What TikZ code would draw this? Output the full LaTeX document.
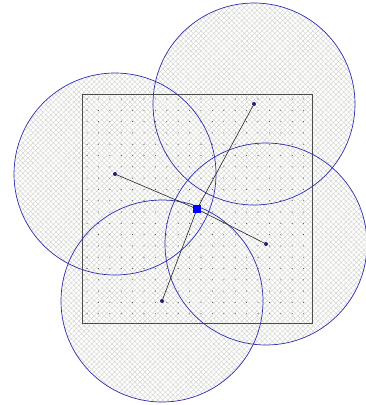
\documentclass[tikz,border=0pt]{standalone}
\usetikzlibrary{patterns.meta}
\definecolor{ringblue}{RGB}{45,45,175}
\definecolor{hatchgray}{RGB}{212,212,208}
\tikzset{
  hatchA/.style={pattern={Lines[angle=45,distance=3.6pt,line width=0.5pt]},pattern color=hatchgray},
  hatchB/.style={pattern={Lines[angle=-45,distance=3.6pt,line width=0.5pt]},pattern color=hatchgray},
  ring/.style={draw=ringblue,line width=0.7pt},
  spoke/.style={draw=black!85,line width=0.6pt},
  site/.style={circle,fill=ringblue!70!black,inner sep=0pt,minimum size=4pt},
  hub/.style={rectangle,fill=blue,inner sep=0pt,minimum size=8pt},
  field/.style={draw=black!70,line width=0.8pt}
}
\begin{document}
\begin{tikzpicture}[x=1pt,y=-1pt]
\useasboundingbox (0,0) rectangle (366,405);
% circle centres
\coordinate (cT) at (254,104);
\coordinate (cL) at (115,174);
\coordinate (cR) at (266,244);
\coordinate (cB) at (162,301);
% hatched discs (union filled once)
\fill[hatchA] (cT) circle (101) (cL) circle (101) (cR) circle (101) (cB) circle (101);
\fill[hatchB] (cT) circle (101) (cL) circle (101) (cR) circle (101) (cB) circle (101);
% square field with dot grid
\draw[field] (82,94) rectangle (312,323);
\foreach \i in {0,...,19}{
  \foreach \j in {0,...,19}{
    \fill[black!75] ({87+\i*11.4},{99+\j*11.3}) circle (0.55);
  }
}
% circle outlines
\foreach \c in {cT,cL,cR,cB}{
  \draw[ring] (\c) circle (101);
}
% sites and hub
\node[site] (pT) at (cT) {};
\node[site] (pL) at (cL) {};
\node[site] (pR) at (cR) {};
\node[site] (pB) at (cB) {};
\node[hub] (h) at (197,209) {};
\draw[spoke] (pT) -- (h.center);
\draw[spoke] (pL) -- (h.center);
\draw[spoke] (pR) -- (h.center);
\draw[spoke] (pB) -- (h.center);
\node[hub] at (h) {};
\end{tikzpicture}
\end{document}
